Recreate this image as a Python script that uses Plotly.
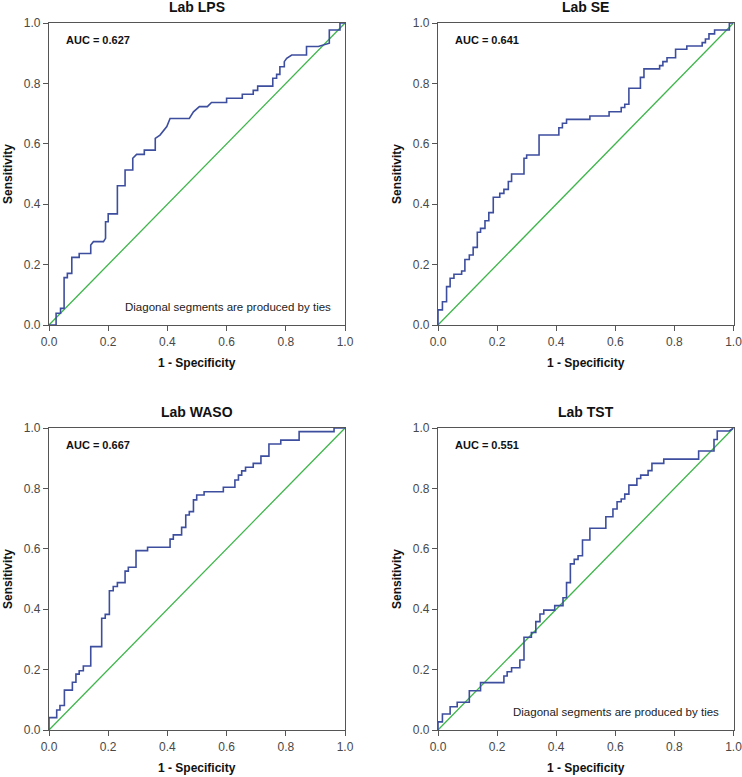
import plotly.graph_objects as go

# ---------------- data ----------------
titles = ["Lab LPS", "Lab SE", "Lab WASO", "Lab TST"]
auc_values = ["0.627", "0.641", "0.667", "0.551"]
tie_note = "Diagonal segments are produced by ties"
ties_panels = [True, False, False, True]
tick_vals = [0.0, 0.2, 0.4, 0.6, 0.8, 1.0]
tick_text = ["0.0", "0.2", "0.4", "0.6", "0.8", "1.0"]
x_title = "1 - Specificity"
y_title = "Sensitivity"

lps_fpr = [0, 0.024, 0.024, 0.039, 0.039, 0.051, 0.051, 0.062, 0.062, 0.077, 0.077, 0.102, 0.102,
           0.141, 0.141, 0.150, 0.184, 0.191, 0.191, 0.200, 0.200, 0.231, 0.231, 0.257, 0.257,
           0.283, 0.283, 0.296, 0.322, 0.322, 0.359, 0.359, 0.375, 0.398, 0.409, 0.474, 0.488,
           0.508, 0.535, 0.549, 0.600, 0.600, 0.653, 0.653, 0.690, 0.690, 0.705, 0.705, 0.756,
           0.756, 0.769, 0.769, 0.780, 0.780, 0.795, 0.795, 0.803, 0.820, 0.870, 0.870, 0.910,
           0.947, 0.947, 0.983, 0.983, 1.0]
lps_tpr = [0, 0, 0.039, 0.039, 0.055, 0.055, 0.157, 0.157, 0.171, 0.171, 0.224, 0.224, 0.237,
           0.237, 0.265, 0.276, 0.276, 0.287, 0.342, 0.342, 0.368, 0.368, 0.461, 0.461, 0.513,
           0.513, 0.552, 0.565, 0.565, 0.579, 0.579, 0.618, 0.629, 0.657, 0.684, 0.684, 0.706,
           0.723, 0.723, 0.737, 0.737, 0.751, 0.751, 0.764, 0.764, 0.777, 0.777, 0.791, 0.791,
           0.817, 0.817, 0.830, 0.830, 0.855, 0.855, 0.872, 0.883, 0.894, 0.894, 0.922, 0.922,
           0.933, 0.977, 0.977, 1.0, 1.0]

se_fpr = [0, 0, 0.015, 0.015, 0.029, 0.029, 0.041, 0.041, 0.054, 0.054, 0.080, 0.080, 0.091, 0.091,
          0.106, 0.106, 0.119, 0.119, 0.133, 0.133, 0.144, 0.144, 0.159, 0.159, 0.172, 0.172,
          0.187, 0.187, 0.209, 0.209, 0.223, 0.223, 0.238, 0.238, 0.249, 0.249, 0.291, 0.291,
          0.300, 0.300, 0.342, 0.342, 0.409, 0.409, 0.421, 0.421, 0.435, 0.435, 0.514, 0.514,
          0.579, 0.579, 0.620, 0.620, 0.632, 0.632, 0.646, 0.646, 0.685, 0.685, 0.697, 0.697,
          0.750, 0.750, 0.761, 0.761, 0.775, 0.775, 0.804, 0.804, 0.842, 0.842, 0.894, 0.894,
          0.905, 0.905, 0.917, 0.917, 0.936, 0.936, 0.986, 0.986, 1.0]
se_tpr = [0, 0.050, 0.050, 0.077, 0.077, 0.127, 0.127, 0.155, 0.155, 0.168, 0.168, 0.179, 0.179,
          0.217, 0.217, 0.232, 0.232, 0.257, 0.257, 0.307, 0.307, 0.320, 0.320, 0.345, 0.345,
          0.372, 0.372, 0.423, 0.423, 0.436, 0.436, 0.449, 0.449, 0.475, 0.475, 0.500, 0.500,
          0.552, 0.552, 0.563, 0.563, 0.629, 0.629, 0.653, 0.653, 0.668, 0.668, 0.681, 0.681,
          0.692, 0.692, 0.706, 0.706, 0.720, 0.720, 0.731, 0.731, 0.784, 0.784, 0.820, 0.820,
          0.848, 0.848, 0.859, 0.859, 0.872, 0.872, 0.885, 0.885, 0.913, 0.913, 0.924, 0.924,
          0.935, 0.935, 0.947, 0.947, 0.964, 0.964, 0.977, 0.977, 1.0, 1.0]

waso_fpr = [0, 0, 0.026, 0.026, 0.037, 0.037, 0.052, 0.052, 0.079, 0.079, 0.091, 0.091, 0.102, 0.102,
            0.116, 0.116, 0.141, 0.141, 0.178, 0.178, 0.190, 0.190, 0.204, 0.204, 0.217, 0.217,
            0.231, 0.231, 0.257, 0.257, 0.268, 0.268, 0.294, 0.294, 0.333, 0.333, 0.409, 0.409,
            0.420, 0.420, 0.448, 0.448, 0.462, 0.462, 0.474, 0.474, 0.488, 0.488, 0.499, 0.499,
            0.524, 0.524, 0.589, 0.589, 0.628, 0.628, 0.640, 0.640, 0.651, 0.651, 0.664, 0.664,
            0.690, 0.690, 0.716, 0.716, 0.743, 0.743, 0.783, 0.783, 0.845, 0.845, 0.963, 0.963, 1.0]
waso_tpr = [0, 0.041, 0.041, 0.066, 0.066, 0.081, 0.081, 0.132, 0.132, 0.158, 0.158, 0.185, 0.185,
            0.196, 0.196, 0.212, 0.212, 0.276, 0.276, 0.370, 0.370, 0.383, 0.383, 0.461, 0.461,
            0.475, 0.475, 0.488, 0.488, 0.526, 0.526, 0.539, 0.539, 0.594, 0.594, 0.605, 0.605,
            0.632, 0.632, 0.646, 0.646, 0.671, 0.671, 0.712, 0.712, 0.723, 0.723, 0.762, 0.762,
            0.778, 0.778, 0.789, 0.789, 0.804, 0.804, 0.828, 0.828, 0.844, 0.844, 0.858, 0.858,
            0.870, 0.870, 0.883, 0.883, 0.907, 0.907, 0.947, 0.947, 0.960, 0.960, 0.988, 0.988,
            1.0, 1.0]

tst_fpr = [0, 0, 0.015, 0.015, 0.041, 0.041, 0.065, 0.065, 0.106, 0.106, 0.144, 0.144, 0.223, 0.223,
           0.234, 0.234, 0.249, 0.249, 0.277, 0.277, 0.291, 0.291, 0.316, 0.316, 0.331, 0.331,
           0.345, 0.345, 0.358, 0.358, 0.395, 0.395, 0.423, 0.423, 0.435, 0.435, 0.448, 0.448,
           0.461, 0.461, 0.474, 0.474, 0.489, 0.489, 0.514, 0.514, 0.568, 0.568, 0.592, 0.592,
           0.606, 0.606, 0.620, 0.620, 0.632, 0.632, 0.646, 0.646, 0.673, 0.673, 0.686, 0.686,
           0.711, 0.711, 0.724, 0.724, 0.764, 0.764, 0.882, 0.882, 0.934, 0.934, 0.945, 0.945,
           0.986, 1.0]
tst_tpr = [0, 0.027, 0.027, 0.053, 0.053, 0.077, 0.077, 0.092, 0.092, 0.130, 0.130, 0.157, 0.157,
           0.179, 0.179, 0.193, 0.193, 0.206, 0.206, 0.232, 0.232, 0.307, 0.307, 0.323, 0.323,
           0.359, 0.359, 0.384, 0.384, 0.397, 0.397, 0.412, 0.412, 0.438, 0.438, 0.488, 0.488,
           0.550, 0.550, 0.565, 0.565, 0.577, 0.577, 0.629, 0.629, 0.668, 0.668, 0.706, 0.706,
           0.732, 0.732, 0.756, 0.756, 0.765, 0.765, 0.781, 0.781, 0.811, 0.811, 0.833, 0.833,
           0.844, 0.844, 0.859, 0.859, 0.883, 0.883, 0.897, 0.897, 0.924, 0.924, 0.962, 0.962,
           0.990, 0.990, 1.0]

ref_x = [0, 1]
ref_y = [0, 1]

curves = [(lps_fpr, lps_tpr), (se_fpr, se_tpr), (waso_fpr, waso_tpr), (tst_fpr, tst_tpr)]

# ---------------- layout ----------------
W, H = 742, 777
x_doms = [[49 / W, 345 / W], [438 / W, 733.5 / W]]
y_doms = [[1 - 325 / H, 1 - 23 / H], [1 - 730 / H, 1 - 428 / H]]

BLUE = "#3D4E9E"
GREEN = "#3DB54A"
AXIS = "#555555"
FONT = "Liberation Sans, Arial, sans-serif"

fig = go.Figure()
annotations = []
layout_axes = {}

for i in range(4):
    row, col = divmod(i, 2)
    xd, yd = x_doms[col], y_doms[row]
    n = "" if i == 0 else str(i + 1)
    xa, ya = "x" + n, "y" + n
    fx, fy = curves[i]
    fig.add_trace(go.Scatter(x=ref_x, y=ref_y, mode="lines", xaxis=xa, yaxis=ya,
                             line=dict(color=GREEN, width=1.3), showlegend=False, hoverinfo="skip"))
    fig.add_trace(go.Scatter(x=fx, y=fy, mode="lines", xaxis=xa, yaxis=ya,
                             line=dict(color=BLUE, width=1.6), showlegend=False))
    common = dict(range=[0, 1], tickvals=tick_vals, ticktext=tick_text, showgrid=False,
                  zeroline=False, showline=True, linecolor=AXIS, linewidth=1.3, mirror=True,
                  ticks="outside", ticklen=5, tickcolor=AXIS, tickwidth=1.2, automargin=False,
                  ticklabeloverflow="allow",
                  tickfont=dict(family=FONT, size=12, color="#484848"), fixedrange=True)
    layout_axes["xaxis" + n] = dict(domain=xd, anchor=ya, **common)
    layout_axes["yaxis" + n] = dict(domain=yd, anchor=xa, **common)

    # panel title
    annotations.append(dict(text="<b>" + titles[i] + "</b>", xref="paper", yref="paper",
                            x=(xd[0] + xd[1]) / 2, y=yd[1] + 16 / H, xanchor="center",
                            yanchor="middle", showarrow=False,
                            font=dict(family=FONT, size=14, color="#111")))
    # axis titles
    annotations.append(dict(text="<b>" + x_title + "</b>", xref="paper", yref="paper",
                            x=(xd[0] + xd[1]) / 2, y=yd[0] - 38 / H, xanchor="center",
                            yanchor="middle", showarrow=False,
                            font=dict(family=FONT, size=12, color="#111")))
    annotations.append(dict(text="<b>" + y_title + "</b>", xref="paper", yref="paper",
                            x=xd[0] - 41 / W, y=(yd[0] + yd[1]) / 2, xanchor="center",
                            yanchor="middle", textangle=-90, showarrow=False,
                            font=dict(family=FONT, size=12, color="#111")))
    # AUC label
    annotations.append(dict(text="<b>AUC = " + auc_values[i] + "</b>", xref=xa, yref=ya,
                            x=0.05, y=0.944, xanchor="left", yanchor="middle", showarrow=False,
                            font=dict(family=FONT, size=11, color="#111")))
    if ties_panels[i]:
        annotations.append(dict(text=tie_note, xref=xa, yref=ya, x=0.959, y=0.06,
                                xanchor="right", yanchor="middle", showarrow=False,
                                font=dict(family=FONT, size=11.5, color="#222")))

fig.update_layout(width=W, height=H, margin=dict(l=0, r=0, t=0, b=0, autoexpand=False),
                  paper_bgcolor="white", plot_bgcolor="white",
                  annotations=annotations, **layout_axes)

# remove the default page margin so the 742x777 figure fills the window exactly
fig.write_html("out.html", config={"displayModeBar": False},
               post_script="document.body.style.margin='0px';document.body.style.overflow='hidden';")
